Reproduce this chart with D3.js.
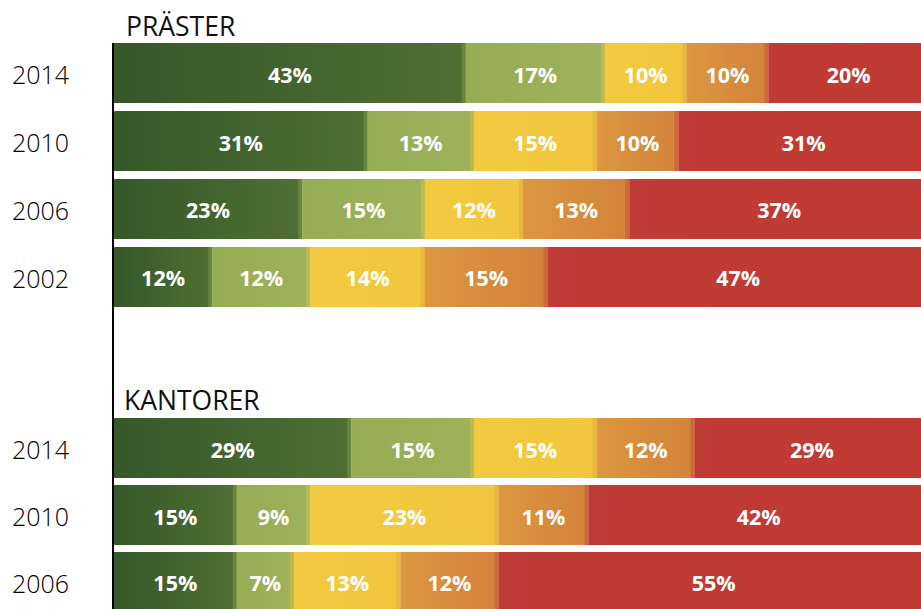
<!DOCTYPE html>
<html>
<head>
<meta charset="utf-8">
<script src="https://cdn.jsdelivr.net/npm/d3@7"></script>
<style>
  html, body { margin: 0; padding: 0; background: #fff; }
  svg { display: block; }
</style>
</head>
<body>
<svg id="chart" width="921" height="609"></svg>
<script>
// ---- data ----
const categories = ["kat1", "kat2", "kat3", "kat4", "kat5"];
const groupTitles = ["PRÄSTER", "KANTORER"];
const prasterYears = ["2014", "2010", "2006", "2002"];
const prasterShares = [
  [43, 17, 10, 10, 20],
  [31, 13, 15, 10, 31],
  [23, 15, 12, 13, 37],
  [12, 12, 14, 15, 47]
];
const kantorerYears = ["2014", "2010", "2006"];
const kantorerShares = [
  [29, 15, 15, 12, 29],
  [15, 9, 23, 11, 42],
  [15, 7, 13, 12, 55]
];

// ---- styles ----
const colorStart = ["#36582a", "#96ad55", "#f3ca3f", "#dc973f", "#c03b35"];
const colorEnd   = ["#4f6f33", "#9db25a", "#f1c63e", "#d3823b", "#c03a34"];

const svg = d3.select("#chart");
const W = 921, H = 609;
const x = d3.scaleLinear().domain([0, 100]).range([114, 932]);

const defs = svg.append("defs");
categories.forEach((c, i) => {
  const g = defs.append("linearGradient").attr("id", "grad" + i)
    .attr("x1", 0).attr("x2", 1).attr("y1", 0).attr("y2", 0);
  g.append("stop").attr("offset", "0%").attr("stop-color", colorStart[i]);
  g.append("stop").attr("offset", "100%").attr("stop-color", colorEnd[i]);
});

const blocks = [
  { title: groupTitles[0], years: prasterYears, shares: prasterShares, range: [43, 307], pad: 0.1176, titleY: 35.5, titleX: 126 },
  { title: groupTitles[1], years: kantorerYears, shares: kantorerShares, range: [418, 612], pad: 0.104, titleY: 410, titleX: 124 }
];

const stack = d3.stack().keys(categories);

blocks.forEach(b => {
  const y = d3.scaleBand().domain(b.years).range(b.range).paddingInner(b.pad).paddingOuter(0);
  const rows = b.years.map((yr, i) => {
    const o = { year: yr };
    categories.forEach((c, j) => o[c] = b.shares[i][j]);
    return o;
  });
  const series = stack(rows);

  svg.append("text")
    .attr("x", b.titleX).attr("y", b.titleY)
    .attr("font-family", "'Open Sans', sans-serif")
    .attr("font-size", 26.5).attr("font-weight", 400)
    .attr("fill", "#111")
    .text(b.title);

  const g = svg.append("g");
  series.forEach((s, si) => {
    const sg = g.append("g");
    sg.selectAll("rect.seg").data(s).join("rect")
      .attr("class", "seg")
      .attr("x", d => x(d[0]))
      .attr("y", d => y(d.data.year))
      .attr("width", d => x(d[1]) - x(d[0]))
      .attr("height", y.bandwidth())
      .attr("fill", "url(#grad" + si + ")");
    if (si < series.length - 1) {
      const mix = d3.interpolateRgb(colorEnd[si], colorStart[si + 1]);
      sg.selectAll("rect.strip").data(s).join("rect")
        .attr("class", "strip")
        .attr("x", d => x(d[1]) - 4)
        .attr("y", d => y(d.data.year))
        .attr("width", 4)
        .attr("height", y.bandwidth())
        .attr("fill", mix(0.35));
    }
  });

  series.forEach((s, si) => {
    g.selectAll(null).data(s).join("text")
      .attr("x", d => (x(d[0]) + Math.min(x(d[1]), W + 8)) / 2)
      .attr("y", d => y(d.data.year) + y.bandwidth() / 2 + 1)
      .attr("text-anchor", "middle")
      .attr("dominant-baseline", "central")
      .attr("font-family", "'Open Sans', sans-serif")
      .attr("font-size", 21.5).attr("font-weight", 700)
      .attr("fill", "#fff")
      .text(d => (d[1] - d[0]) + "%");
  });

  svg.append("g").selectAll("text").data(b.years).join("text")
    .attr("x", 12)
    .attr("y", d => y(d) + y.bandwidth() / 2 + 1)
    .attr("dominant-baseline", "central")
    .attr("font-family", "'Open Sans', sans-serif")
    .attr("font-size", 25).attr("font-weight", 300)
    .attr("fill", "#000")
    .text(d => d);
});

// vertical axis line
svg.append("line")
  .attr("x1", 113).attr("x2", 113)
  .attr("y1", 43).attr("y2", H)
  .attr("stroke", "#000").attr("stroke-width", 2);
</script>
</body>
</html>
